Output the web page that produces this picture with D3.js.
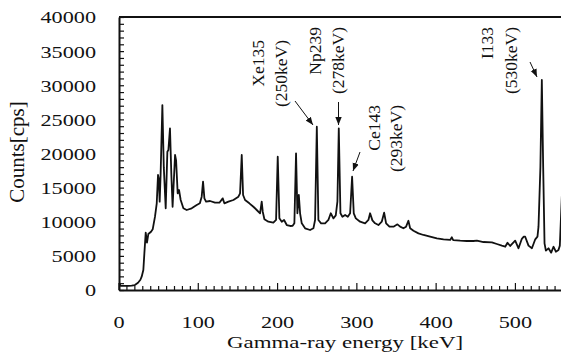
<!DOCTYPE html>
<html>
<head>
<meta charset="utf-8">
<script src="https://cdn.jsdelivr.net/npm/d3@7"></script>
<style>
  html, body { margin: 0; padding: 0; background: #fff; }
  svg { display: block; }
  svg text { font-family: "Liberation Serif", "Times New Roman", serif; }
</style>
</head>
<body>
<div id="chart"></div>
<script>
// spectrum
const energy = [0, 2, 8, 12, 16, 20, 24, 27, 28.6, 30.7, 32, 33.7, 35.3, 37, 40.4, 42.5, 45.4, 47.6, 49.2, 50.1,
  51.3, 52.5, 54.7, 56.5, 58.9, 61, 62.3, 64.3, 66, 67.6, 70.7, 72, 74, 75.7, 77.8, 81.2, 85.4, 91.7, 98, 102,
  104.3, 106, 107.7, 109.8, 114.8, 121.1, 126.6, 130.8, 132.9, 138, 144.3, 150.6, 152.7, 154.8, 156.5, 159, 164.4, 169.5, 173.7, 177.9,
  180, 181.3, 183.4, 188.4, 194.7, 198.1, 200.2, 202.3, 205.3, 208.2, 211.6, 215.8, 219, 221.2, 223.3, 225, 226.8, 228.4, 230.5, 234.7,
  241, 245.2, 247.3, 249.5, 251.5, 254.9, 259.9, 264.1, 267.1, 270.4, 273.4, 275.5, 277.2, 279.3, 281.8, 285.2, 288.6, 291.5, 294, 296.1,
  298.7, 304.1, 310.4, 314.6, 316.7, 319.6, 323, 327.2, 331.4, 334.4, 336.9, 341.1, 346.2, 351.2, 354.6, 358.7, 362.1, 365, 367.2, 371.4,
  377.7, 384, 392.4, 400.9, 409.3, 417.7, 419.8, 421.5, 430.3, 438.7, 447, 451.4, 459.7, 470.3, 476.6, 482.9, 487.1, 490, 493.4, 499.7,
  503.9, 508.1, 510.5, 512.3, 516.5, 520.8, 525, 527.8, 529.1, 531.5, 533.3, 535, 536.7, 538.4, 541.7, 545.1, 548, 551, 554.3, 556,
  559];
const counts = [1100, 620, 590, 590, 640, 730, 1070, 1500, 1950, 2930, 5370, 8400, 6930, 8200, 8540, 8890, 10740, 12700, 16850, 16360,
  12940, 17000, 27100, 18000, 11970, 20260, 20510, 23690, 17000, 12200, 19780, 19000, 14170, 14650, 13190, 11970, 11720, 11970, 12450, 12700,
  13670, 15870, 13430, 12940, 13040, 12790, 12790, 13430, 12700, 12940, 13190, 13670, 14170, 19780, 13920, 13190, 12700, 12200, 11720, 11240,
  12940, 11470, 10360, 10010, 9860, 10260, 19530, 10500, 10010, 10260, 9520, 9380, 9400, 9770, 20030, 11240, 13920, 11240, 9770, 9040,
  8790, 9040, 10260, 23920, 10260, 9770, 9770, 10260, 11240, 10500, 10940, 13000, 23690, 11240, 10740, 10990, 10740, 11240, 16600, 11240,
  10500, 10010, 9770, 10260, 11240, 10200, 9770, 9520, 10010, 11330, 9770, 9280, 9280, 9620, 9280, 9040, 9280, 10150, 9040, 8690,
  8300, 8060, 7810, 7570, 7420, 7330, 7720, 7300, 7220, 7180, 7180, 7220, 7030, 6990, 6740, 6490, 6340, 6930, 6450, 7220,
  6110, 7500, 7810, 7810, 6500, 6110, 7430, 7810, 9280, 18000, 30770, 18000, 6840, 5760, 6110, 5470, 6340, 5610, 5860, 6500,
  15000];

const xTickValues = [0, 100, 200, 300, 400, 500];
const yTickValues = [0, 5000, 10000, 15000, 20000, 25000, 30000, 35000, 40000];

const peakNames = ["Xe135", "Np239", "Ce143", "I133"];
const peakEnergies = ["(250keV)", "(278keV)", "(293keV)", "(530keV)"];

const width = 561, height = 354;
const margin = { top: 17, right: -2, bottom: 64, left: 119 };
const stretch = 1.27; // horizontal text is drawn wide in the reference

const svg = d3.select('#chart')
  .append('svg')
  .attr('width', width)
  .attr('height', height);

const x = d3.scaleLinear()
  .domain([0, 560])
  .range([margin.left, width - margin.right]);

const y = d3.scaleLinear()
  .domain([0, 40000])
  .range([height - margin.bottom, margin.top]);

svg.append('defs').append('marker')
  .attr('id', 'head')
  .attr('viewBox', '0 0 10 10')
  .attr('refX', 10).attr('refY', 5)
  .attr('markerWidth', 8).attr('markerHeight', 8)
  .attr('markerUnits', 'userSpaceOnUse')
  .attr('orient', 'auto')
  .append('path')
  .attr('d', 'M0,1 L10,5 L0,9 Z')
  .attr('fill', '#111');

svg.append('clipPath').attr('id', 'plot')
  .append('rect')
  .attr('x', margin.left).attr('y', margin.top)
  .attr('width', width - margin.left).attr('height', y(0) - margin.top);

// spectrum
const line = d3.line()
  .x(i => x(energy[i]))
  .y(i => y(counts[i]));

svg.append('path')
  .datum(d3.range(energy.length))
  .attr('clip-path', 'url(#plot)')
  .attr('fill', 'none')
  .attr('stroke', '#111')
  .attr('stroke-width', 1.8)
  .attr('stroke-linejoin', 'round')
  .attr('d', line);

// y axis, ticks pointing inward
const yAxis = svg.append('g')
  .attr('transform', `translate(${margin.left},0)`)
  .call(d3.axisLeft(y)
    .tickValues(d3.range(0, 40001, 1000))
    .tickSizeInner(-5)
    .tickSizeOuter(0)
    .tickPadding(23)
    .tickFormat(d => yTickValues.includes(d) ? d : ''));
yAxis.attr('font-family', null).attr('font-size', null);
yAxis.select('.domain').attr('stroke', '#111').attr('stroke-width', 2);
yAxis.selectAll('.tick line').attr('stroke', '#111').attr('stroke-width', 1.2);
yAxis.selectAll('.tick text')
  .attr('font-size', 17.5)
  .attr('fill', '#111')
  .attr('dy', '0.34em')
  .attr('x', -23 / stretch)
  .attr('transform', `scale(${stretch},1)`);

// x axis
const xAxis = svg.append('g')
  .attr('transform', `translate(0,${y(0)})`)
  .call(d3.axisBottom(x)
    .tickValues(d3.range(0, 561, 10))
    .tickSizeInner(-4)
    .tickSizeOuter(0)
    .tickPadding(26)
    .tickFormat(d => xTickValues.includes(d) ? d : ''));
xAxis.attr('font-family', null).attr('font-size', null);
xAxis.select('.domain').attr('stroke', '#111').attr('stroke-width', 2);
xAxis.selectAll('.tick line')
  .attr('stroke', '#111')
  .attr('stroke-width', 1.2)
  .attr('y2', d => xTickValues.includes(d) ? -7 : -4);
xAxis.selectAll('.tick').each(function (d) {
  const tick = d3.select(this);
  const tx = x(d);
  tick.attr('transform', null);
  tick.select('line').attr('x1', tx).attr('x2', tx);
  tick.select('text')
    .attr('font-size', 17.5)
    .attr('fill', '#111')
    .attr('x', tx / stretch)
    .attr('transform', `scale(${stretch},1)`);
});

// top frame line
svg.append('line')
  .attr('x1', margin.left).attr('x2', width)
  .attr('y1', y(40000)).attr('y2', y(40000))
  .attr('stroke', '#111').attr('stroke-width', 2);

// axis titles
svg.append('text')
  .attr('transform', `translate(345,348) scale(${stretch + 0.04},1)`)
  .attr('text-anchor', 'middle')
  .attr('font-size', 17.5)
  .attr('fill', '#111')
  .text('Gamma-ray energy [keV]');

svg.append('text')
  .attr('transform', 'translate(24,152) rotate(-90)')
  .attr('text-anchor', 'middle')
  .attr('font-size', 21)
  .attr('fill', '#111')
  .text('Counts[cps]');

// peak annotations: text baselines / top ends, and arrows (pixels)
const labelLayout = [
  { nx: 263.5, ex: 287, top: 40, arrow: [295, 101, 313, 125] },
  { nx: 320.5, ex: 344, top: 27, arrow: [338.5, 102, 338.5, 125] },
  { nx: 380, ex: 402, top: 105, arrow: [360, 152, 353, 171] },
  { nx: 493, ex: 517, top: 27, arrow: [530, 62, 537, 77] }
];

const ann = svg.append('g').attr('fill', '#111').attr('font-size', 17.5);
peakNames.forEach((name, i) => {
  const l = labelLayout[i];
  ann.append('text')
    .attr('transform', `translate(${l.nx},${l.top}) rotate(-90)`)
    .attr('text-anchor', 'end')
    .text(name);
  ann.append('text')
    .attr('transform', `translate(${l.ex},${l.top}) rotate(-90)`)
    .attr('text-anchor', 'end')
    .text(peakEnergies[i]);
  ann.append('line')
    .attr('x1', l.arrow[0]).attr('y1', l.arrow[1])
    .attr('x2', l.arrow[2]).attr('y2', l.arrow[3])
    .attr('stroke', '#111').attr('stroke-width', 1)
    .attr('marker-end', 'url(#head)');
});
</script>
</body>
</html>
